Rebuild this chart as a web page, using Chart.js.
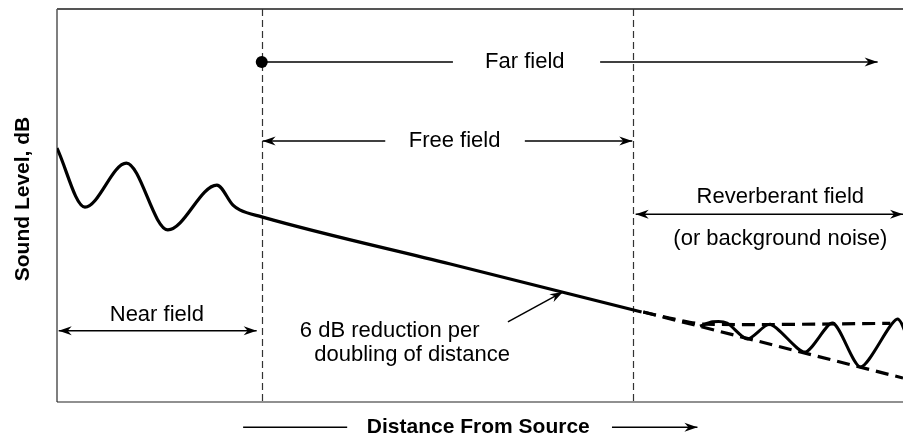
<!DOCTYPE html>
<html>
<head>
<meta charset="utf-8">
<script src="https://cdn.jsdelivr.net/npm/chart.js@4.4.1/dist/chart.umd.min.js"></script>
<style>
  html, body { margin: 0; padding: 0; background: #fff; }
  #wrap { width: 903px; height: 436px; position: relative; }
</style>
</head>
<body>
<div id="wrap"><canvas id="myChart"></canvas></div>
<script>
// distance / level values (both axes 0..100, arbitrary units)
var mainDist   = [0, 3.3, 8.2, 13.1, 18.9, 20.8, 21.6, 24.2, 46.5, 69.1];
var mainLevel  = [64.6, 49.6, 60.8, 43.8, 55.2, 50.1, 48.9, 47.1, 35.1, 22.9];

var reverbDist  = [76.0, 77.5, 79.2, 81.6, 84.3, 88.4, 91.7, 95.0, 99.3, 101.1];
var reverbLevel = [19.3, 20.4, 20.1, 16.0, 19.8, 12.7, 20.1, 8.9, 21.1, 12.7];

var upperDist  = [69.3, 73.0, 76.6, 98.5];
var upperLevel = [22.9, 21.1, 19.8, 20.0];

var lowerDist  = [69.3, 100];
var lowerLevel = [22.9, 6.1];

var zoneEdges = [24.2, 68.1];        // near|far field, free|reverberant field
var farFieldStart = [24.2, 86.5];    // the dot

var xTitle = 'Distance From Source';
var yTitle = 'Sound Level, dB';

function pts(xs, ys) {
    var out = [];
    for (var i = 0; i < xs.length; i++) out.push({x: xs[i], y: ys[i]});
    return out;
}

// annotation layout (in data units)
var arrows = [
    // [x1, y1, x2, y2, headAtStart, headAtEnd]
    [24.2, 86.5, 46.8, 86.5, false, false],
    [64.2, 86.5, 97.0, 86.5, false, true],
    [24.3, 66.4, 38.8, 66.4, true, false],
    [55.3, 66.4, 68.0, 66.4, false, true],
    [68.4, 47.8, 100.0, 47.8, true, true],
    [0.2, 18.1, 23.6, 18.1, true, true],
    [53.3, 20.4, 59.8, 28.0, false, true],
    [22.0, -6.4, 34.3, -6.4, false, false],
    [65.6, -6.4, 75.7, -6.4, false, true]
];
var labels = [
    // [text, x, y, align]
    ['Far field', 55.3, 86.5, 'center'],
    ['Free field', 47.0, 66.4, 'center'],
    ['Reverberant field', 85.5, 52.2, 'center'],
    ['(or background noise)', 85.5, 41.5, 'center'],
    ['Near field', 11.8, 22.1, 'center'],
    ['6 dB reduction per', 28.7, 18.1, 'left'],
    ['doubling of distance', 30.4, 12.0, 'left']
];

function arrowHead(c, x, y, ang) {
    c.save();
    c.translate(x, y);
    c.rotate(ang);
    c.beginPath();
    c.moveTo(0, 0);
    c.lineTo(-13, -4.5);
    c.lineTo(-9, 0);
    c.lineTo(-13, 4.5);
    c.closePath();
    c.fill();
    c.restore();
}

var sketchPlugin = {
    id: 'sketch',
    beforeDatasetsDraw: function(chart) {
        var c = chart.ctx, a = chart.chartArea;
        var sx = chart.scales.x, sy = chart.scales.y;
        c.save();
        // frame
        c.strokeStyle = '#555';
        c.lineWidth = 2;
        c.beginPath(); c.moveTo(a.left, a.top); c.lineTo(a.right + 2, a.top); c.stroke();
        c.lineWidth = 1.5;
        c.beginPath(); c.moveTo(a.left, a.top); c.lineTo(a.left, a.bottom); c.stroke();
        c.strokeStyle = '#222';
        c.lineWidth = 1.2;
        c.beginPath(); c.moveTo(a.left, a.bottom); c.lineTo(a.right + 2, a.bottom); c.stroke();
        // zone dividers
        c.strokeStyle = '#333';
        c.lineWidth = 1.2;
        c.setLineDash([7, 4]);
        zoneEdges.forEach(function(v) {
            var px = Math.round(sx.getPixelForValue(v)) + 0.5;
            c.beginPath(); c.moveTo(px, a.top); c.lineTo(px, a.bottom); c.stroke();
        });
        c.restore();
    },
    afterDatasetsDraw: function(chart) {
        var c = chart.ctx, a = chart.chartArea;
        var sx = chart.scales.x, sy = chart.scales.y;
        c.save();
        c.strokeStyle = '#000';
        c.fillStyle = '#000';
        c.lineWidth = 1.5;
        arrows.forEach(function(r) {
            var x1 = sx.getPixelForValue(r[0]), y1 = sy.getPixelForValue(r[1]);
            var x2 = sx.getPixelForValue(r[2]), y2 = sy.getPixelForValue(r[3]);
            var ang = Math.atan2(y2 - y1, x2 - x1);
            c.beginPath(); c.moveTo(x1, y1); c.lineTo(x2, y2); c.stroke();
            if (r[4]) arrowHead(c, x1, y1, ang + Math.PI);
            if (r[5]) arrowHead(c, x2, y2, ang);
        });
        c.font = '22px "Liberation Sans", Arial, sans-serif';
        c.textBaseline = 'middle';
        labels.forEach(function(l) {
            c.textAlign = l[3];
            c.fillText(l[0], sx.getPixelForValue(l[1]), sy.getPixelForValue(l[2]));
        });
        // axis titles
        c.font = 'bold 21px "Liberation Sans", Arial, sans-serif';
        c.textAlign = 'center';
        c.fillText(xTitle, sx.getPixelForValue(49.8), a.bottom + 25);
        c.save();
        c.translate(23, 199);
        c.rotate(-Math.PI / 2);
        c.fillText(yTitle, 0, 0);
        c.restore();
        c.restore();
    }
};

var ctx = document.getElementById('myChart').getContext('2d');

var graphData = {
    type: 'line',
    data: {
        datasets: [{
            label: 'Direct sound',
            data: pts(mainDist, mainLevel),
            borderColor: '#000',
            borderWidth: 3.2,
            cubicInterpolationMode: 'monotone',
            pointRadius: 0
        }, {
            label: 'Reverberant',
            data: pts(reverbDist, reverbLevel),
            borderColor: '#000',
            borderWidth: 3,
            tension: 0.25,
            pointRadius: 0
        }, {
            label: 'Upper envelope',
            data: pts(upperDist, upperLevel),
            borderColor: '#000',
            borderWidth: 3.2,
            borderDash: [13, 7],
            tension: 0.3,
            pointRadius: 0
        }, {
            label: 'Lower envelope',
            data: pts(lowerDist, lowerLevel),
            borderColor: '#000',
            borderWidth: 3.2,
            borderDash: [13, 7],
            pointRadius: 0
        }, {
            label: 'Far field start',
            data: [{x: farFieldStart[0], y: farFieldStart[1]}],
            showLine: false,
            pointRadius: 6,
            pointBackgroundColor: '#000',
            pointBorderWidth: 0
        }]
    },
    options: {
        responsive: true,
        maintainAspectRatio: false,
        devicePixelRatio: 1,
        animation: false,
        layout: { autoPadding: false, padding: { left: 57, top: 9, right: 0, bottom: 34 } },
        plugins: { legend: { display: false }, tooltip: { enabled: false } },
        scales: {
            x: { type: 'linear', min: 0, max: 100, display: false },
            y: { type: 'linear', min: 0, max: 100, display: false }
        }
    },
    plugins: [sketchPlugin]
};
var myChart = new Chart(ctx, graphData);
</script>
</body>
</html>
